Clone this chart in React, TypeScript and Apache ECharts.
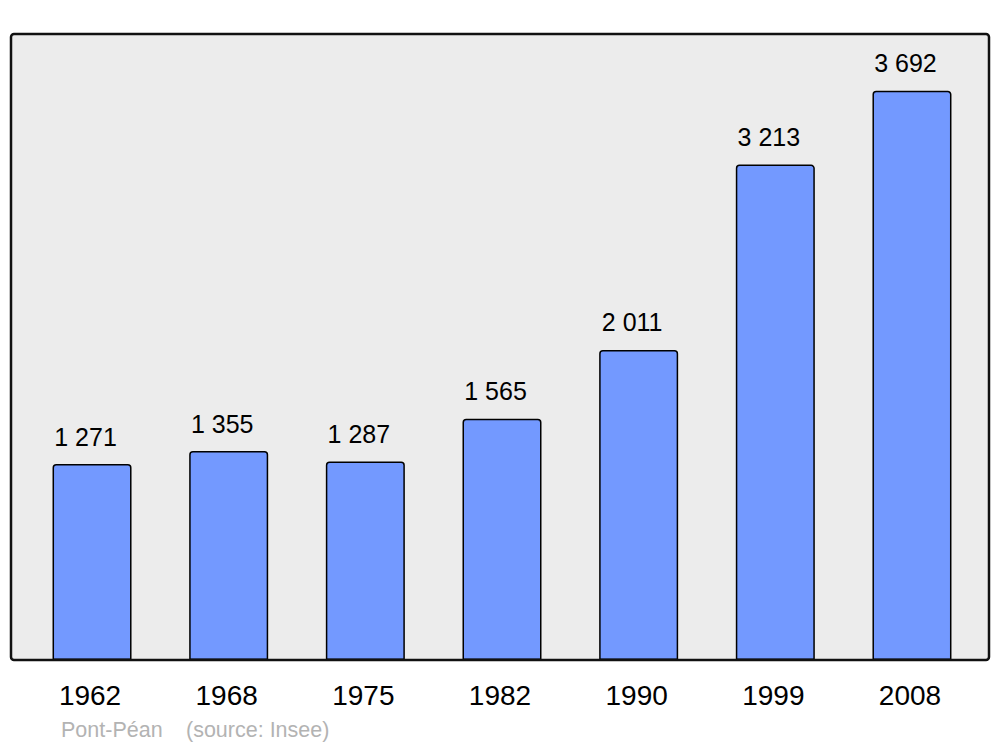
import React, { useEffect, useRef } from "react";
import * as echarts from "echarts";

const years = ["1962", "1968", "1975", "1982", "1990", "1999", "2008"];
const population = [1271, 1355, 1287, 1565, 2011, 3213, 3692];
const townName = "Pont-Péan";
const sourceText = "(source: Insee)";

const FONT = '"Liberation Sans", Arial, sans-serif';

function fmt(v: number): string {
  return String(v).replace(/\B(?=(\d{3})+(?!\d))/g, " ");
}

export default function App() {
  const ref = useRef<HTMLDivElement>(null);
  useEffect(() => {
    if (!ref.current) return;
    const chart = echarts.init(ref.current, null, { renderer: "svg" });
    chart.setOption({
      animation: false,
      backgroundColor: "#ffffff",
      grid: { left: 23.7, right: 19.7, top: 34, bottom: 87 },
      xAxis: {
        type: "category",
        data: years,
        axisLine: { show: false },
        axisTick: { show: false },
        axisLabel: {
          color: "#000",
          fontSize: 28,
          fontFamily: FONT,
          margin: 21,
          lineHeight: 28,
          padding: [0, 4, 0, 0],
        },
      },
      yAxis: {
        type: "value",
        min: 0,
        max: 4060,
        show: false,
        splitLine: { show: false },
      },
      graphic: [
        {
          type: "rect",
          z: -10,
          shape: { x: 11, y: 34, width: 978, height: 626, r: 3 },
          style: { fill: "#ececec", stroke: "none" },
          silent: true,
        },
        {
          type: "rect",
          z: 100,
          shape: { x: 11, y: 34, width: 978, height: 626, r: 3 },
          style: { fill: "none", stroke: "#111", lineWidth: 2.5 },
          silent: true,
        },
        {
          type: "text",
          x: 61,
          y: 730,
          style: {
            text: townName,
            fill: "#b3b3b3",
            font: `21.5px ${FONT}`,
            verticalAlign: "middle",
            align: "left",
          },
        },
        {
          type: "text",
          x: 186,
          y: 730,
          style: {
            text: sourceText,
            fill: "#b3b3b3",
            font: `21.5px ${FONT}`,
            verticalAlign: "middle",
            align: "left",
          },
        },
      ],
      series: [
        {
          type: "bar",
          data: population,
          barWidth: 79,
          itemStyle: {
            color: "#7399ff",
            borderColor: "#000",
            borderWidth: 1.5,
            borderRadius: [3, 3, 0, 0],
          },
          label: {
            show: true,
            position: "top",
            distance: 15,
            offset: [-6.5, 0],
            color: "#000",
            fontSize: 25,
            fontFamily: FONT,
            formatter: (p: any) => fmt(p.value),
          },
        },
      ],
    });
    return () => chart.dispose();
  }, []);
  return (
    <div
      ref={ref}
      style={{ position: "fixed", left: 0, top: 0, width: 1000, height: 747 }}
    />
  );
}
